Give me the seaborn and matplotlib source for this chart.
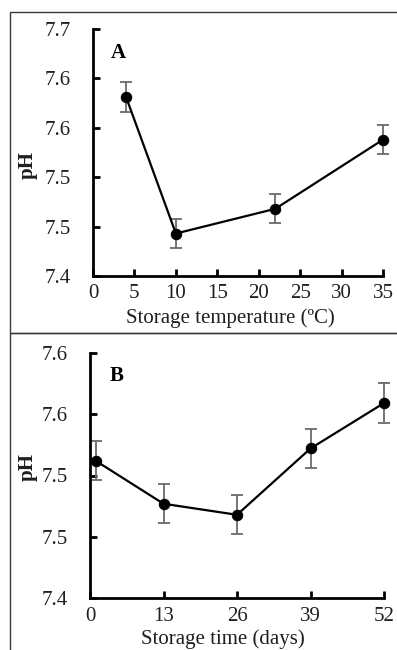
import matplotlib
matplotlib.use("Agg")
import matplotlib.pyplot as plt
import seaborn as sns
import pandas as pd
from matplotlib.patches import Rectangle

# ---- data ----
temp_c = [4, 10, 22, 35]
ph_temp = [7.581, 7.443, 7.468, 7.538]
err_temp = [0.0155, 0.0145, 0.0145, 0.015]
temp_ticks = [0, 5, 10, 15, 20, 25, 30, 35]
ph_ticks_a = [7.40, 7.45, 7.50, 7.55, 7.60, 7.65]
ph_ticklabels_a = ["7.4", "7.5", "7.5", "7.6", "7.6", "7.7"]

days = [1, 13, 26, 39, 52]
ph_days = [7.512, 7.477, 7.468, 7.522, 7.559]
err_days = [0.016, 0.016, 0.016, 0.016, 0.016]
day_ticks = [0, 13, 26, 39, 52]
ph_ticks_b = [7.40, 7.45, 7.50, 7.55, 7.60]
ph_ticklabels_b = ["7.4", "7.5", "7.5", "7.6", "7.6"]

sns.set_style("ticks")
plt.rcParams['font.family'] = ['Liberation Serif', 'DejaVu Serif']

W, H = 397, 650
fig = plt.figure(figsize=(W / 100, H / 100), dpi=100)

def fx(px):
    return px / W

def fy(py):
    return 1 - py / H

text_col = "#1f1f1f"
FS = 15

def make_panel(rect, x, y, e, xticks, yticks, yticklabels, xlim, ylim, xlabel,
               xlab_coords, letter, letter_pos, ylab_pos):
    ax = fig.add_axes(rect)
    df = pd.DataFrame({"x": x, "y": y})
    ax.errorbar(x, y, yerr=e, fmt="none", ecolor="#6a6a6a", elinewidth=1.3,
                capsize=4, capthick=1.3, zorder=2, clip_on=False)
    sns.lineplot(data=df, x="x", y="y", ax=ax, color="black", linewidth=1.6,
                 marker="o", markersize=7.5, markeredgecolor="black",
                 markerfacecolor="black", zorder=3, clip_on=False)
    ax.set_xlim(*xlim)
    ax.set_ylim(*ylim)
    ax.set_xticks(xticks)
    ax.set_xticklabels([str(t) for t in xticks])
    ax.set_yticks(yticks)
    ax.set_yticklabels(yticklabels)
    for s in ["top", "right"]:
        ax.spines[s].set_visible(False)
    for s in ["left", "bottom"]:
        ax.spines[s].set_linewidth(2)
        ax.spines[s].set_color("black")
    ax.tick_params(axis="both", direction="in", length=5, width=2, color="black",
                   labelsize=FS, labelcolor=text_col)
    ax.tick_params(axis="y", pad=16)
    ax.tick_params(axis="x", pad=6)
    ax.set_xlabel(xlabel, fontsize=FS, color=text_col)
    ax.xaxis.set_label_coords(*xlab_coords)
    ax.xaxis.label.set_va("center")
    ax.set_ylabel("")
    fig.text(fx(ylab_pos[0]), fy(ylab_pos[1]), "pH", rotation=90, fontsize=FS,
             fontweight="bold", color=text_col, ha="center", va="center")
    fig.text(fx(letter_pos[0]), fy(letter_pos[1]), letter, fontsize=FS,
             fontweight="bold", color="black", ha="center", va="center")
    ax.set_facecolor("none")
    return ax

# panel A
make_panel([fx(93), fy(276), fx(383) - fx(93), fy(29) - fy(276)],
           temp_c, ph_temp, err_temp, temp_ticks, ph_ticks_a, ph_ticklabels_a,
           (0, 35), (7.40, 7.65), "Storage temperature (ºC)", (0.472, -0.172),
           "A", (118, 53), (28, 165))

# panel B
make_panel([fx(90), fy(598.3), fx(384) - fx(90), fy(352.7) - fy(598.3)],
           days, ph_days, err_days, day_ticks, ph_ticks_b, ph_ticklabels_b,
           (0, 52), (7.40, 7.60), "Storage time (days)", (0.452, -0.166),
           "B", (117, 376), (28, 467))

# panel borders
border_col = "#3a3a3a"
fig.add_artist(Rectangle((fx(10), fy(332.5)), fx(420) - fx(10), fy(11.5) - fy(332.5),
                         transform=fig.transFigure, fill=False, edgecolor=border_col,
                         linewidth=1.0))
fig.add_artist(Rectangle((fx(10), fy(660)), fx(420) - fx(10), fy(332.5) - fy(660),
                         transform=fig.transFigure, fill=False, edgecolor=border_col,
                         linewidth=1.0))

fig.savefig("out.png", dpi=100)
